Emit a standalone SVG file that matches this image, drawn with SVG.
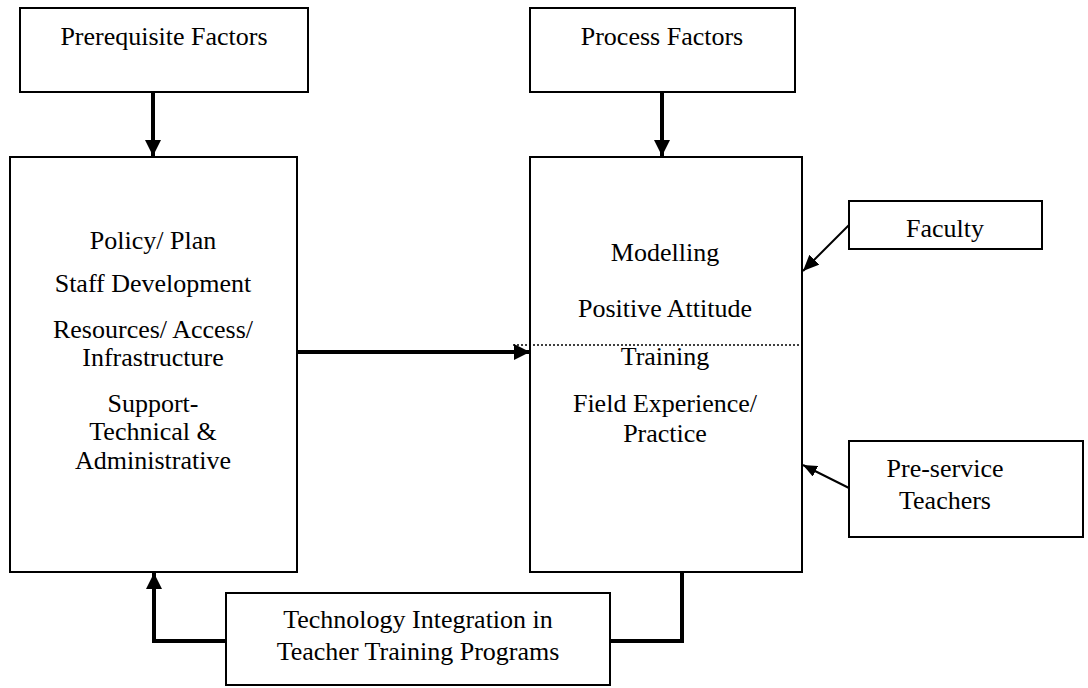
<svg xmlns="http://www.w3.org/2000/svg" width="1088" height="688" viewBox="0 0 1088 688">
<style>
.box{fill:#fff;stroke:#000;stroke-width:2}
.t{font-family:"Liberation Serif","Times New Roman",serif;font-size:26px;fill:#000;text-anchor:middle}
.thick{fill:none;stroke:#000;stroke-width:4}
.thin{fill:none;stroke:#000;stroke-width:2}
</style>
<defs>
<marker id="ah" markerWidth="4" markerHeight="4" refX="4" refY="2" orient="auto" markerUnits="strokeWidth"><path d="M0,0 L4,2 L0,4 z" fill="#000"/></marker>
<marker id="ahs" markerWidth="14" markerHeight="12" refX="14" refY="6" orient="auto" markerUnits="userSpaceOnUse"><path d="M0,0 L14,6 L0,12 z" fill="#000"/></marker>
<marker id="ahf" markerWidth="16" markerHeight="14" refX="16" refY="7" orient="auto" markerUnits="userSpaceOnUse"><path d="M0,0 L16,7 L0,14 z" fill="#000"/></marker>
</defs>
<g id="connectors">
<line class="thick" x1="153" y1="92" x2="153" y2="156" marker-end="url(#ah)"/>
<line class="thick" x1="662" y1="92" x2="662" y2="156" marker-end="url(#ah)"/>
<line class="thick" x1="298" y1="352" x2="530" y2="352" marker-end="url(#ah)"/>
<polyline class="thick" points="226,641 154,641 154,573" marker-end="url(#ah)"/>
<polyline class="thick" points="610,641 682,641 682,572"/>
<line class="thin" x1="849" y1="225" x2="803" y2="271" marker-end="url(#ahf)"/>
<line class="thin" x1="849" y1="488" x2="803" y2="465" marker-end="url(#ahs)"/>
<line x1="513" y1="345" x2="800" y2="345" stroke="#000" stroke-width="1.5" stroke-dasharray="2,2"/>
</g>
<g id="prerequisite">
<rect class="box" x="20" y="8" width="288" height="84"/>
<text class="t" x="164" y="45">Prerequisite Factors</text>
</g>
<g id="process">
<rect class="box" x="530" y="8" width="265" height="84"/>
<text class="t" x="662" y="45">Process Factors</text>
</g>
<g id="left-box">
<rect class="box" x="10" y="157" width="287" height="415"/>
<text class="t" x="153" y="249">Policy/ Plan</text>
<text class="t" x="153" y="292">Staff Development</text>
<text class="t" x="153" y="338">Resources/ Access/</text>
<text class="t" x="153" y="366">Infrastructure</text>
<text class="t" x="153" y="412">Support-</text>
<text class="t" x="153" y="440">Technical &amp;</text>
<text class="t" x="153" y="469">Administrative</text>
</g>
<g id="right-box">
<rect class="box" x="530" y="157" width="272" height="415" style="fill:none"/>
<text class="t" x="665" y="261">Modelling</text>
<text class="t" x="665" y="317">Positive Attitude</text>
<text class="t" x="665" y="365">Training</text>
<text class="t" x="665" y="412">Field Experience/</text>
<text class="t" x="665" y="442">Practice</text>
</g>
<g id="faculty">
<rect class="box" x="849" y="201" width="193" height="48"/>
<text class="t" x="945" y="237">Faculty</text>
</g>
<g id="preservice">
<rect class="box" x="849" y="441" width="234" height="96"/>
<text class="t" x="945" y="477">Pre-service</text>
<text class="t" x="945" y="509">Teachers</text>
</g>
<g id="technology">
<rect class="box" x="226" y="593" width="384" height="92"/>
<text class="t" x="418" y="628">Technology Integration in</text>
<text class="t" x="418" y="660">Teacher Training Programs</text>
</g>
</svg>
